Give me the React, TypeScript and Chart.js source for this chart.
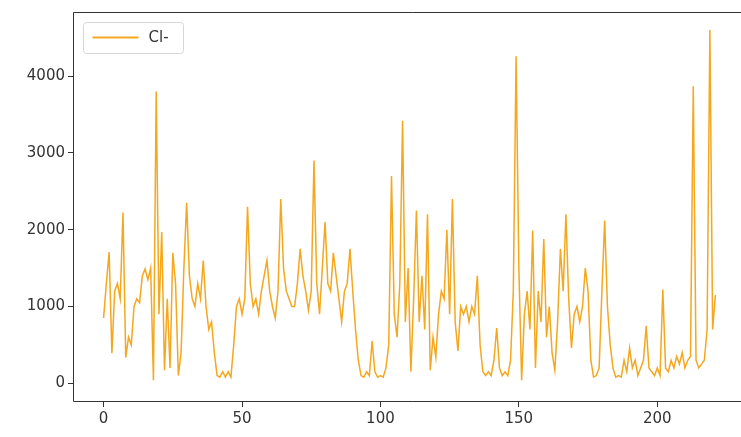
import React, { useEffect, useRef } from "react";
import { Chart, registerables } from "chart.js";

Chart.register(...registerables);

const seriesName = "Cl-";
const xTicks = [0, 50, 100, 150, 200];
const yTicks = [0, 1000, 2000, 3000, 4000];
const clValues = [
  850, 1300, 1710, 390, 1200, 1300, 1100, 2225, 335, 600,
  500, 1000, 1100, 1050, 1400, 1490, 1350, 1500, 40, 3800,
  900, 1970, 170, 1100, 200, 1700, 1300, 100, 400, 1500,
  2350, 1400, 1100, 1000, 1300, 1100, 1600, 1000, 700, 800,
  400, 100, 80, 150, 80, 150, 80, 500, 1000, 1100,
  900, 1100, 2300, 1300, 1000, 1100, 900, 1200, 1400, 1600,
  1200, 1000, 850, 1200, 2400, 1500, 1200, 1100, 1000, 1000,
  1300, 1750, 1400, 1200, 950, 1200, 2900, 1300, 900, 1500,
  2100, 1300, 1200, 1700, 1400, 1100, 800, 1200, 1300, 1750,
  1200, 700, 300, 100, 80, 150, 100, 550, 150, 80,
  100, 80, 200, 500, 2700, 900, 600, 1300, 3420, 800,
  1500, 150, 1100, 2250, 800, 1400, 700, 2200, 170, 600,
  340, 900, 1200, 1100, 2000, 900, 2400, 800, 420, 1000,
  900, 1000, 800, 1000, 900, 1400, 500, 150, 100, 150,
  100, 300, 720, 200, 100, 150, 100, 300, 1200, 4260,
  1500, 40, 900, 1200, 700, 1990, 200, 1200, 800, 1880,
  600, 1000, 400, 170, 800, 1750, 1200, 2200, 1100, 460,
  900, 1000, 800, 1000, 1500, 1200, 300, 80, 100, 200,
  1200, 2120, 1000, 500, 200, 80, 100, 80, 300, 150,
  460, 200, 300, 100, 200, 300, 745, 200, 150, 100,
  200, 100, 1220, 200, 150, 300, 200, 350, 250, 400,
  200, 300, 350, 3870, 300, 200, 250, 300, 700, 4600,
  700, 1150,
];

const LINE_COLOR = "#f5a71e";
const TEXT_COLOR = "#333333";
const FONT = "'DejaVu Sans', sans-serif";

const framePlugin = {
  id: "frameAndLegend",
  afterDraw(chart: any) {
    const { ctx, chartArea: a } = chart;
    ctx.save();
    ctx.strokeStyle = "#333333";
    ctx.lineWidth = 1;
    const l = Math.round(a.left) + 0.5;
    const t = Math.round(a.top) + 0.5;
    const b = Math.round(a.bottom) - 0.5;
    const r = chart.width + 5;
    ctx.beginPath();
    ctx.moveTo(r, t);
    ctx.lineTo(l, t);
    ctx.lineTo(l, b);
    ctx.lineTo(r, b);
    ctx.stroke();
    // legend box (matplotlib style)
    const bx = Math.round(a.left) + 10.5;
    const by = Math.round(a.top) + 10.5;
    const bw = 100;
    const bh = 31;
    ctx.beginPath();
    if ((ctx as any).roundRect) (ctx as any).roundRect(bx, by, bw, bh, 3);
    else ctx.rect(bx, by, bw, bh);
    ctx.fillStyle = "rgba(255,255,255,0.8)";
    ctx.fill();
    ctx.strokeStyle = "#d6d6d6";
    ctx.stroke();
    ctx.beginPath();
    ctx.strokeStyle = LINE_COLOR;
    ctx.lineWidth = 2;
    ctx.moveTo(bx + 9, by + 15);
    ctx.lineTo(bx + 55, by + 15);
    ctx.stroke();
    ctx.fillStyle = TEXT_COLOR;
    ctx.font = `15px ${FONT}`;
    ctx.textBaseline = "middle";
    ctx.textAlign = "left";
    ctx.fillText(seriesName, bx + 65, by + 16);
    ctx.restore();
  },
};

export default function App() {
  const canvasRef = useRef<HTMLCanvasElement | null>(null);

  useEffect(() => {
    const canvas = canvasRef.current;
    if (!canvas) return;
    const points = clValues.map((v, i) => ({ x: i, y: v }));
    const chart = new Chart(canvas, {
      type: "line",
      data: {
        datasets: [
          {
            label: seriesName,
            data: points,
            borderColor: LINE_COLOR,
            backgroundColor: LINE_COLOR,
            borderWidth: 1.5,
            pointRadius: 0,
            tension: 0,
            fill: false,
          },
        ],
      },
      options: {
        animation: false,
        responsive: false,
        maintainAspectRatio: false,
        layout: { padding: { left: 0, top: 7, right: 4, bottom: 0 } },
        plugins: {
          legend: { display: false },
          tooltip: { enabled: false },
        },
        scales: {
          x: {
            type: "linear",
            min: -11.05,
            max: 232.05,
            afterBuildTicks: (s: any) => {
              s.ticks = xTicks.map((v) => ({ value: v }));
            },
            afterFit: (s: any) => {
              s.height = 35;
            },
            grid: {
              drawOnChartArea: false,
              drawTicks: true,
              tickLength: 5,
              tickColor: "#333333",
              color: "#333333",
            },
            border: { display: false },
            ticks: {
              color: TEXT_COLOR,
              font: { family: FONT, size: 15 },
              padding: 3,
              maxRotation: 0,
              autoSkip: false,
              callback: (v: any) => String(v),
            },
          },
          y: {
            type: "linear",
            min: -244,
            max: 4836,
            afterBuildTicks: (s: any) => {
              s.ticks = yTicks.map((v) => ({ value: v }));
            },
            afterFit: (s: any) => {
              s.width = 73;
            },
            grid: {
              drawOnChartArea: false,
              drawTicks: true,
              tickLength: 5,
              tickColor: "#333333",
              color: "#333333",
            },
            border: { display: false },
            ticks: {
              color: TEXT_COLOR,
              font: { family: FONT, size: 15 },
              padding: 3,
              autoSkip: false,
              callback: (v: any) => String(v),
            },
          },
        },
      },
      plugins: [framePlugin],
    });
    return () => chart.destroy();
  }, []);

  return (
    <div
      style={{
        position: "fixed",
        left: 0,
        top: 0,
        width: 741,
        height: 437,
        overflow: "hidden",
        background: "#ffffff",
      }}
    >
      <canvas
        ref={canvasRef}
        width={750}
        height={437}
        style={{ width: 750, height: 437, display: "block" }}
      />
    </div>
  );
}
